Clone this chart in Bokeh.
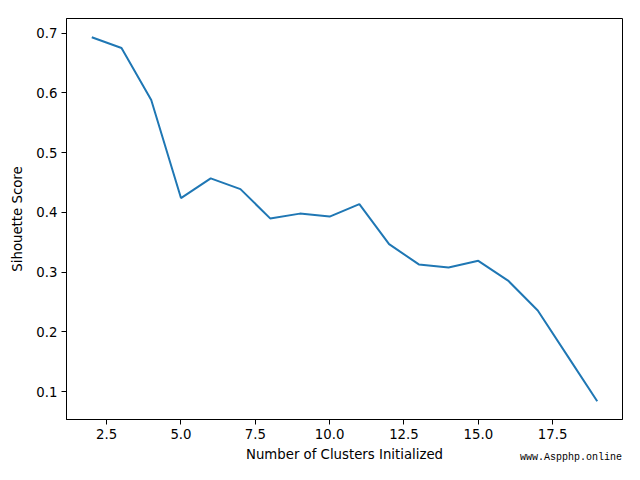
from bokeh.plotting import figure
from bokeh.models import FixedTicker, NumeralTickFormatter, Range1d, Div
from bokeh.layouts import column
from bokeh.embed import file_html
from bokeh.resources import INLINE

clusters = [2, 3, 4, 5, 6, 7, 8, 9, 10, 11, 12, 13, 14, 15, 16, 17, 18, 19]
scores = [0.693, 0.675, 0.588, 0.424, 0.457, 0.439, 0.390, 0.398, 0.393, 0.414,
          0.347, 0.313, 0.308, 0.319, 0.286, 0.236, 0.160, 0.084]
x_ticks = [2.5, 5.0, 7.5, 10.0, 12.5, 15.0, 17.5]
y_ticks = [0.1, 0.2, 0.3, 0.4, 0.5, 0.6, 0.7]
watermark = "www.Aspphp.online"

FONT = "DejaVu Sans"

p = figure(width=624, height=464, output_backend="svg", toolbar_location=None,
           x_range=Range1d(1.15, 19.85), y_range=Range1d(0.0536, 0.7244),
           min_border_left=66, min_border_right=2, min_border_top=18, min_border_bottom=42)
p.line(clusters, scores, line_color="#1f77b4", line_width=2)

p.grid.visible = False
p.outline_line_color = "black"
p.outline_line_width = 1
p.background_fill_color = "white"
p.border_fill_color = "white"

for ax in (p.xaxis[0], p.yaxis[0]):
    ax.minor_tick_line_color = None
    ax.major_tick_out = 5
    ax.major_tick_in = 0
    ax.major_tick_line_color = "black"
    ax.axis_line_color = "black"
    ax.major_label_text_font = FONT
    ax.major_label_text_font_size = "13.3px"
    ax.major_label_text_color = "black"
    ax.major_label_standoff = 4
    ax.axis_label_text_font = FONT
    ax.axis_label_text_font_size = "13.3px"
    ax.axis_label_text_font_style = "normal"
    ax.axis_label_text_color = "black"
    ax.formatter = NumeralTickFormatter(format="0.0")

p.xaxis[0].ticker = FixedTicker(ticks=x_ticks)
p.yaxis[0].ticker = FixedTicker(ticks=y_ticks)
p.xaxis[0].axis_label = "Number of Clusters Initialized"
p.yaxis[0].axis_label = "Sihouette Score"
p.xaxis[0].axis_label_standoff = 5
p.yaxis[0].axis_label_standoff = 8

wm = Div(text=watermark, width=104, height=13,
         styles={"margin-top": "-13px", "margin-left": "520px",
                 "font-family": "'Liberation Mono', monospace", "font-size": "10px",
                 "color": "black", "line-height": "13px", "white-space": "nowrap"})

layout = column(p, wm, spacing=0)

open("out.html", "w").write(file_html(layout, INLINE))
